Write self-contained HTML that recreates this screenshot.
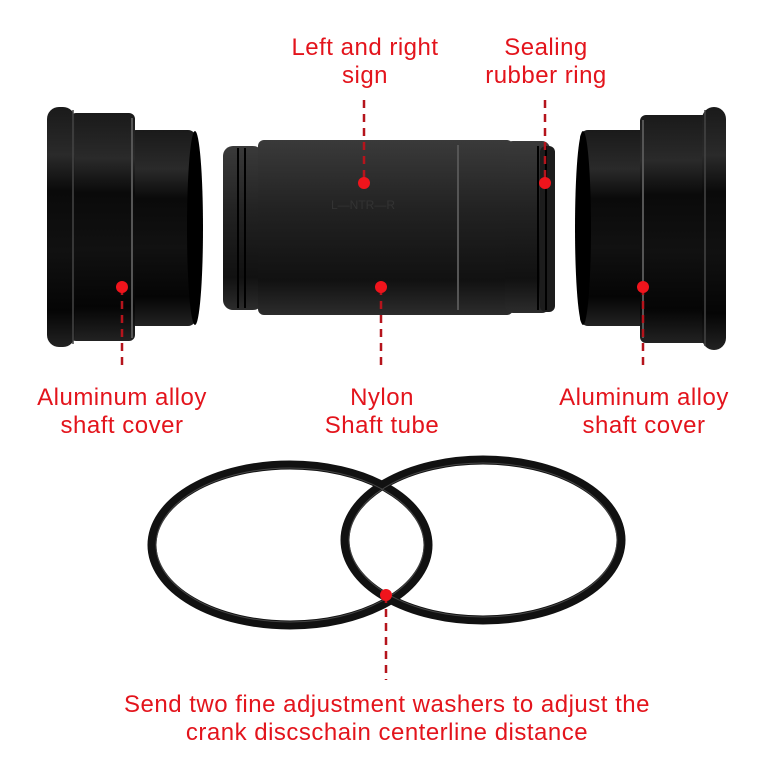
<!DOCTYPE html>
<html><head><meta charset="utf-8"><style>
body{margin:0;width:767px;height:778px;background:#fff;overflow:hidden}
svg{display:block}
text{font-family:"Liberation Sans",sans-serif;font-size:24px;letter-spacing:0.5px;fill:#e3141c;text-anchor:middle}
</style></head><body>
<svg width="767" height="778" viewBox="0 0 767 778">
<defs>
<linearGradient id="g" x1="0" y1="0" x2="0" y2="1">
<stop offset="0" stop-color="#1a1a1a"/><stop offset="0.2" stop-color="#2a2a2a"/><stop offset="0.35" stop-color="#0a0a0a"/><stop offset="0.6" stop-color="#111"/><stop offset="0.85" stop-color="#050505"/><stop offset="1" stop-color="#222"/>
</linearGradient>
<linearGradient id="t" x1="0" y1="0" x2="0" y2="1">
<stop offset="0" stop-color="#3a3a3a"/><stop offset="0.4" stop-color="#222"/><stop offset="0.8" stop-color="#111"/><stop offset="1" stop-color="#2c2c2c"/>
</linearGradient>
</defs>
<rect x="128" y="130" width="68" height="196" rx="8" fill="url(#g)"/>
<ellipse cx="195" cy="228" rx="8" ry="97" fill="#000"/>
<rect x="70" y="113" width="65" height="228" rx="6" fill="url(#g)"/>
<rect x="47" y="107" width="28" height="240" rx="12" fill="url(#g)"/>
<line x1="73" y1="110" x2="73" y2="344" stroke="#444" stroke-width="1.5"/>
<line x1="132" y1="118" x2="132" y2="338" stroke="#555" stroke-width="2"/>
<rect x="580" y="130" width="68" height="196" rx="8" fill="url(#g)"/>
<ellipse cx="583" cy="228" rx="8" ry="97" fill="#000"/>
<rect x="640" y="115" width="70" height="228" rx="6" fill="url(#g)"/>
<rect x="702" y="107" width="24" height="243" rx="12" fill="url(#g)"/>
<line x1="705" y1="110" x2="705" y2="346" stroke="#444" stroke-width="1.5"/>
<line x1="643" y1="120" x2="643" y2="338" stroke="#555" stroke-width="2"/>
<rect x="223" y="146" width="40" height="164" rx="10" fill="url(#t)"/>
<rect x="258" y="140" width="255" height="175" rx="6" fill="url(#t)"/>
<rect x="505" y="141" width="45" height="172" rx="8" fill="url(#t)"/>
<rect x="540" y="146" width="15" height="166" rx="6" fill="#1c1c1c"/>
<line x1="238" y1="148" x2="238" y2="308" stroke="#000" stroke-width="2"/>
<line x1="245" y1="148" x2="245" y2="308" stroke="#000" stroke-width="2"/>
<line x1="458" y1="145" x2="458" y2="310" stroke="#555" stroke-width="2"/>
<line x1="538" y1="146" x2="538" y2="310" stroke="#000" stroke-width="2"/>
<line x1="546" y1="146" x2="546" y2="310" stroke="#000" stroke-width="2"/>
<text x="363" y="209" style="font-size:12px;fill:#333;letter-spacing:0">L—NTR—R</text>
<ellipse cx="290" cy="545" rx="138" ry="80" fill="none" stroke="#111" stroke-width="9"/>
<ellipse cx="483" cy="540" rx="138" ry="80" fill="none" stroke="#111" stroke-width="9"/>
<ellipse cx="290" cy="545" rx="134" ry="77" fill="none" stroke="#444" stroke-width="1"/>
<ellipse cx="483" cy="540" rx="134" ry="77" fill="none" stroke="#444" stroke-width="1"/>
<g stroke="#b5141c" stroke-width="2.5" stroke-dasharray="8,6" fill="none">
<line x1="364" y1="100" x2="364" y2="183"/>
<line x1="545" y1="100" x2="545" y2="183"/>
<line x1="122" y1="287" x2="122" y2="368"/>
<line x1="381" y1="287" x2="381" y2="368"/>
<line x1="643" y1="287" x2="643" y2="368"/>
<line x1="386" y1="595" x2="386" y2="680"/>
</g>
<g fill="#f0141c">
<circle cx="364" cy="183" r="6"/><circle cx="545" cy="183" r="6"/>
<circle cx="122" cy="287" r="6"/><circle cx="381" cy="287" r="6"/><circle cx="643" cy="287" r="6"/>
<circle cx="386" cy="595" r="6"/>
</g>
<text x="365" y="55">Left and right</text>
<text x="365" y="83">sign</text>
<text x="546" y="55">Sealing</text>
<text x="546" y="83">rubber ring</text>
<text x="122" y="405">Aluminum alloy</text>
<text x="122" y="433">shaft cover</text>
<text x="382" y="405">Nylon</text>
<text x="382" y="433">Shaft tube</text>
<text x="644" y="405">Aluminum alloy</text>
<text x="644" y="433">shaft cover</text>
<text x="387" y="712">Send two fine adjustment washers to adjust the</text>
<text x="387" y="740">crank discschain centerline distance</text>
</svg>
</body></html>
